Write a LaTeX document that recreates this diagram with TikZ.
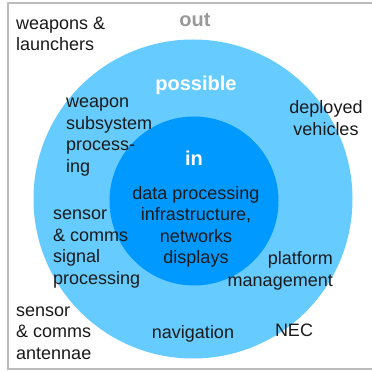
\documentclass[tikz,border=0pt]{standalone}
\usepackage{fontspec}
\setmainfont{Liberation Sans}
\definecolor{outerblue}{HTML}{66CCFF}
\definecolor{innerblue}{HTML}{0099FF}
\definecolor{framegrey}{HTML}{BBBBBB}
\definecolor{outgrey}{HTML}{999999}
\definecolor{txt}{HTML}{1A1A1A}
\tikzset{
  lbl/.style={inner sep=0pt, text=txt, font=\fontsize{18}{21.5}\selectfont},
  head/.style={inner sep=0pt, font=\fontsize{20}{24}\selectfont\bfseries},
}
\begin{document}
\begin{tikzpicture}[x=1pt,y=-1pt]
\useasboundingbox (0,0) rectangle (372,371);
\fill[white] (0,0) rectangle (372,371);
\draw[framegrey, line width=1.5pt] (373,3) -- (8,3) -- (8,369) -- (373,369);
\fill[outerblue] (193,199) circle[radius=159.5];
\fill[innerblue] (194,201) circle[radius=84.5];
\node[head, text=outgrey] (out) at (195,20) {out};
\node[head, text=white] (possible) at (196,85) {possible};
\node[head, text=white] (in) at (194,158) {in};
\node[lbl, anchor=west, align=left] (weap) at (16,34) {weapons \&\\launchers};
\node[lbl, anchor=west, align=left] (wsp) at (66,137) {weapon\\subsystem\\process-\\ing};
\node[lbl, align=center] (dep) at (326,118) {deployed\\vehicles};
\node[lbl, align=center] (dpi) at (196,227) {data processing\\infrastructure,\\networks\\displays};
\node[lbl, anchor=west, align=left] (scsp) at (53,249) {sensor\\\& comms\\signal\\processing};
\node[lbl, anchor=east, align=right] (pm) at (333,271) {platform\\management};
\node[lbl, anchor=west, align=left] (sca) at (16,333) {sensor\\\& comms\\antennae};
\node[lbl] (nav) at (193,334) {navigation};
\node[lbl] (nec) at (294,330) {NEC};
\end{tikzpicture}
\end{document}
